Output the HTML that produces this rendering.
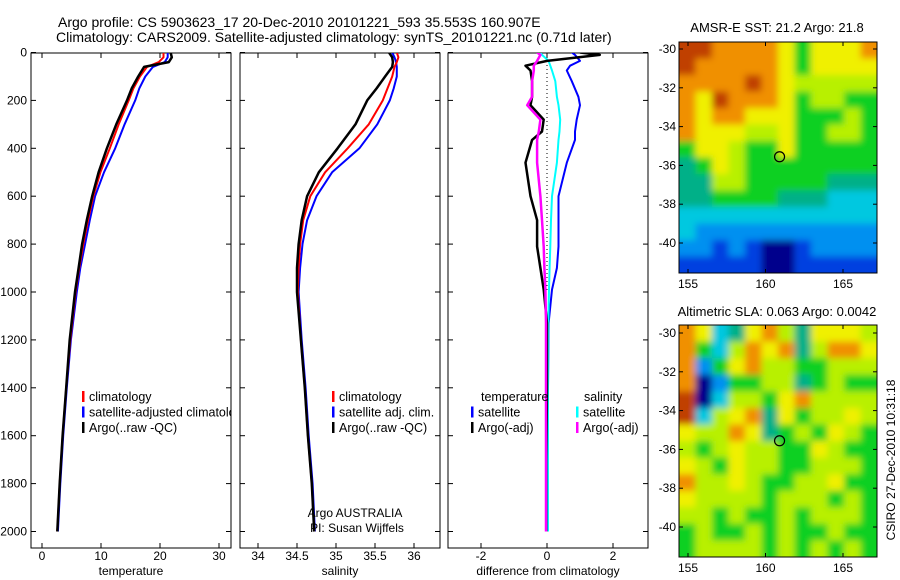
<!DOCTYPE html>
<html><head><meta charset="utf-8"><style>
body{margin:0;background:#fff}
svg{display:block;font-family:"Liberation Sans",sans-serif}
</style></head><body>
<svg id="fig" width="900" height="580" viewBox="0 0 900 580" xmlns="http://www.w3.org/2000/svg">
<defs><filter id="smooth" x="-10%" y="-10%" width="120%" height="120%"><feGaussianBlur stdDeviation="3.5"/></filter></defs>
<text x="58" y="27" font-size="14">Argo profile: CS 5903623_17 20-Dec-2010 20101221_593 35.553S 160.907E</text>
<text x="56" y="42" font-size="14">Climatology: CARS2009. Satellite-adjusted climatology: synTS_20101221.nc (0.71d later)</text>
<text x="777" y="32" font-size="13" text-anchor="middle">AMSR-E SST: 21.2 Argo: 21.8</text>
<text x="777" y="316" font-size="13" text-anchor="middle">Altimetric SLA: 0.063 Argo: 0.0042</text>
<text transform="translate(895,460) rotate(-90)" font-size="12" text-anchor="middle">CSIRO 27-Dec-2010 10:31:18</text>
<g id="layer"></g>
</svg>
<script>
// ---- profile data ----
const depths = [0,20,40,60,100,150,200,300,400,500,600,700,800,900,1000,1200,1400,1600,1800,2000];
const tempArgo = [21.8,22,21.5,17.3,16.3,15.2,14.4,12.6,11,9.6,8.5,7.6,6.8,6.2,5.6,4.7,4.1,3.5,3.0,2.6];
const tempClim = [20.6,20.6,19.8,17.8,16.6,15.5,14.7,13,11.5,9.9,8.7,7.8,7.0,6.3,5.7,4.8,4.1,3.5,3.0,2.6];
const tempSat = [21.3,21.3,20.8,18.8,17.5,16.5,15.8,14,12.4,10.5,9.0,8.1,7.3,6.5,5.9,4.9,4.2,3.6,3.1,2.7];
const salArgo = [35.68,35.72,35.73,35.72,35.63,35.52,35.40,35.25,35.02,34.78,34.63,34.56,34.52,34.50,34.50,34.55,34.60,34.64,34.69,34.72];
const salClim = [35.78,35.8,35.78,35.75,35.72,35.66,35.6,35.42,35.15,34.86,34.67,34.58,34.54,34.52,34.51,34.55,34.60,34.64,34.69,34.72];
const salSat = [35.72,35.75,35.77,35.78,35.78,35.74,35.69,35.53,35.3,34.95,34.75,34.63,34.57,34.54,34.52,34.56,34.61,34.65,34.70,34.73];
const diffDepths = [0,10,35,55,75,120,185,220,280,330,365,460,600,700,810,900,990,1130,1400,1700,2000];
const dTempSat = [0.75,0.85,1.0,0.7,0.6,0.75,0.95,1.0,0.9,0.85,0.85,0.6,0.35,0.35,0.35,0.3,0.15,0.05,0.03,0.03,0.03];
const dTempArgo = [1.0,1.6,0.0,-0.65,-0.5,-0.45,-0.45,-0.5,-0.1,-0.15,-0.45,-0.65,-0.5,-0.3,-0.3,-0.2,-0.1,0,0,-0.02,-0.02];
const dSalSat = [-0.2,-0.15,0.05,0.1,0.15,0.25,0.3,0.35,0.4,0.38,0.35,0.3,0.15,0.12,0.1,0.08,0.06,0.04,0.03,0.03,0.03];
const dSalArgo = [-0.3,-0.2,-0.3,-0.4,-0.4,-0.45,-0.45,-0.6,-0.2,-0.25,-0.3,-0.3,-0.2,-0.15,-0.1,-0.08,-0.05,-0.03,-0.03,-0.03,-0.03];
const depthTicks = [0,200,400,600,800,1000,1200,1400,1600,1800,2000];
const tempTicks = [0,10,20,30];
const salTicks = [34,34.5,35,35.5,36];
const salTickLabels = ["34","34.5","35","35.5","36"];
const diffTicks = [-2,0,2];
const lonTicks = [155,160,165];
const latTicks = [-30,-32,-34,-36,-38,-40];
// map grids (colour class 0..9 per cell, rows north->south)
const sstGrid = ["998888757778","988888757777","888898766666","879888756655","878877755565","877766755665","577655755555","457655555555","446655555444","445555444333","333333333333","322222222222","221210012222","111110011111"];
const slaGrid = ["873478647776","853687846887","825786655666","802556645655","903665786666","936784756676","766874565765","656766557655","765766556665","866765566755","766665666565","665655656665","565565655655","566665656565"];
const palette = ["#00008c","#0040e0","#0090f0","#00c8e0","#00b088","#10d020","#b8f000","#f0f000","#f09000","#c04000"];

const NS="http://www.w3.org/2000/svg";
const layer=document.getElementById('layer');
function mk(tag,attrs,parent){const e=document.createElementNS(NS,tag);for(const k in attrs)e.setAttribute(k,attrs[k]);(parent||layer).appendChild(e);return e;}

const yTop=52.5, yScale=0.2395, pTop=53, pBot=548;
function yD(d){return yTop+d*yScale;}
function makeX(v0,px0,v1,px1){return v=>px0+(v-v0)*(px1-px0)/(v1-v0);}
const xT=makeX(0,42,30,219), xS=makeX(34,258,36,414), xDf=makeX(-2,481,2,613);

function panel(x0,x1,name,xticks,xlabels,xf,xtitle,showY){
  const g=mk('g',{});
  
  
  const cid='clip-'+name;
  const cp=mk('clipPath',{id:cid},g);mk('rect',{x:x0,y:pTop,width:x1-x0,height:pBot-pTop},cp);
  mk('rect',{x:x0,y:pTop,width:x1-x0,height:pBot-pTop,fill:'#fff',stroke:'#000','stroke-width':1},g);
  depthTicks.forEach(d=>{const y=yD(d);
    mk('line',{x1:x0,x2:x0+5,y1:y,y2:y,stroke:'#000'},g);mk('line',{x1:x1-5,x2:x1,y1:y,y2:y,stroke:'#000'},g);
    if(showY){const t=mk('text',{x:x0-4,y:y+4,'font-size':12,'text-anchor':'end'},g);t.textContent=d;
      
      }
  });
  xticks.forEach((v,i)=>{const x=xf(v);
    mk('line',{x1:x,x2:x,y1:pTop,y2:pTop+5,stroke:'#000'},g);mk('line',{x1:x,x2:x,y1:pBot-5,y2:pBot,stroke:'#000'},g);
    const t=mk('text',{x:x,y:560,'font-size':12,'text-anchor':'middle'},g);t.textContent=xlabels[i];
    
    
  });
  const tt=mk('text',{x:(x0+x1)/2,y:575,'font-size':12,'text-anchor':'middle'},g);tt.textContent=xtitle;
  
  
  const inner=mk('g',{'clip-path':'url(#'+cid+')'},g);
  return inner;
}
function line(g,xs,ds,xf,color,w,name){
  const pts=xs.map((v,i)=>xf(v).toFixed(1)+','+yD(ds[i]).toFixed(1)).join(' ');
  const p=mk('polyline',{points:pts,fill:'none',stroke:color,'stroke-width':w,'stroke-linejoin':'round'},g);
  
  
}
function legend(g,x,y,items){
  items.forEach((it,i)=>{
    const yy=y+i*15.5;
    mk('rect',{x:x,y:yy-10,width:2.5,height:11,fill:it[1]},g);
    if(it[0]){const t=mk('text',{x:x+7,y:yy,'font-size':12.5},g);t.textContent=it[0];
    
    }
  });
}
// temperature panel
const gT=panel(31,231,'temperature-panel',tempTicks,tempTicks.map(String),xT,'temperature',true);
line(gT,tempSat,depths,xT,'#0000ff',2,'temp-satellite-line');
line(gT,tempClim,depths,xT,'#ff0000',2,'temp-climatology-line');
line(gT,tempArgo,depths,xT,'#000',2.5,'temp-argo-line');
legend(gT,82,401,[['climatology','#f00'],['satellite-adjusted climatology','#00f'],['Argo(..raw -QC)','#000']]);
// salinity panel
const gS=panel(240,440,'salinity-panel',salTicks,salTickLabels,xS,'salinity',false);
line(gS,salSat,depths,xS,'#0000ff',2,'sal-satellite-line');
line(gS,salClim,depths,xS,'#ff0000',2,'sal-climatology-line');
line(gS,salArgo,depths,xS,'#000',2.5,'sal-argo-line');
legend(gS,332,401,[['climatology','#f00'],['satellite adj. clim.','#00f'],['Argo(..raw -QC)','#000']]);
let t1=mk('text',{x:355,y:517,'font-size':12,'text-anchor':'middle'},gS);t1.textContent='Argo AUSTRALIA';


let t2=mk('text',{x:357,y:532,'font-size':12,'text-anchor':'middle'},gS);t2.textContent='PI: Susan Wijffels';


// difference panel
const gD=panel(448,648,'difference-panel',diffTicks,diffTicks.map(String),xDf,'difference from climatology',false);
mk('line',{x1:xDf(0),x2:xDf(0),y1:pTop,y2:yD(1000),stroke:'#000','stroke-dasharray':'1,3'},gD);
line(gD,dTempSat,diffDepths,xDf,'#0000ff',2,'diff-temp-satellite-line');
line(gD,dSalSat,diffDepths,xDf,'#00ffff',2,'diff-sal-satellite-line');
line(gD,dTempArgo,diffDepths,xDf,'#000',2.5,'diff-temp-argo-line');
line(gD,dSalArgo,diffDepths,xDf,'#ff00ff',2.5,'diff-sal-argo-line');
let tl=mk('text',{x:481,y:401,'font-size':12.5},gD);tl.textContent='temperature';


let sl=mk('text',{x:584,y:401,'font-size':12.5},gD);sl.textContent='salinity';


legend(gD,471,416.5,[['satellite','#00f'],['Argo(-adj)','#000']]);
legend(gD,576,416.5,[['satellite','#0ff'],['Argo(-adj)','#f0f']]);

// maps
const xLon=makeX(155,688,165,843);
function map(name,grid,y0,y1,lat30,lat40,cx,cy){
  const g=mk('g',{});
  
  
  const x0=679,x1=877,rows=grid.length,cols=grid[0].length;
  const cw=(x1-x0)/cols,ch=(y1-y0)/rows;
  const cid='clip-'+name;
  const cp=mk('clipPath',{id:cid},g);mk('rect',{x:x0,y:y0,width:x1-x0,height:y1-y0},cp);
  const clipG=mk('g',{'clip-path':'url(#'+cid+')'},g);
  const blurG=mk('g',{filter:'url(#smooth)'},clipG);
  for(let i=-1;i<=rows;i++){for(let j=-1;j<=cols;j++){
    const ri=Math.min(rows-1,Math.max(0,i)), cj=Math.min(cols-1,Math.max(0,j));
    const c=mk('rect',{x:x0+j*cw,y:y0+i*ch,width:cw+0.6,height:ch+0.6,fill:palette[+grid[ri][cj]]},blurG);
    
    
  }}
  mk('rect',{x:x0,y:y0,width:x1-x0,height:y1-y0,fill:'none',stroke:'#000'},g);
  const yLat=makeX(-30,lat30,-40,lat40);
  latTicks.forEach(l=>{const y=yLat(l);
    mk('line',{x1:x0,x2:x0+4,y1:y,y2:y,stroke:'#000'},g);mk('line',{x1:x1-4,x2:x1,y1:y,y2:y,stroke:'#000'},g);
    const t=mk('text',{x:x0-3,y:y+4,'font-size':12,'text-anchor':'end'},g);t.textContent=l;
    
    
  });
  lonTicks.forEach(l=>{const x=xLon(l);
    mk('line',{x1:x,x2:x,y1:y0,y2:y0+4,stroke:'#000'},g);mk('line',{x1:x,x2:x,y1:y1-4,y2:y1,stroke:'#000'},g);
    const t=mk('text',{x:x,y:y1+15,'font-size':12,'text-anchor':'middle'},g);t.textContent=l;
    
    
  });
  const c=mk('circle',{cx:xLon(cx),cy:yLat(cy),r:5,fill:'none',stroke:'#000','stroke-width':1.2},g);
  
  
}
map('sst-map',sstGrid,42,273,49,243,160.907,-35.553);
map('sla-map',slaGrid,325,557,333,527,160.907,-35.553);
</script>
</body></html>
